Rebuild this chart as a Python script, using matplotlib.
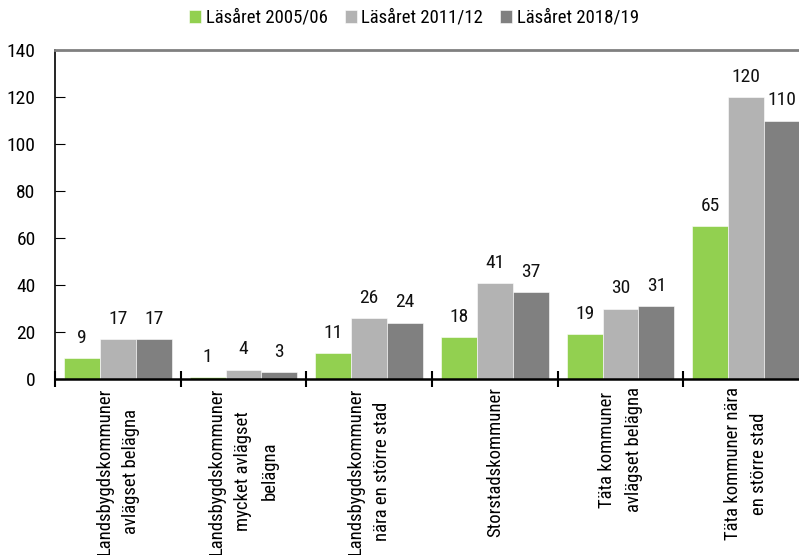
import matplotlib
matplotlib.use("Agg")
import matplotlib.pyplot as plt
import numpy as np

categories = [
    "Landsbygdskommuner\navlägset belägna",
    "Landsbygdskommuner\nmycket avlägset\nbelägna",
    "Landsbygdskommuner\nnära en större stad",
    "Storstadskommuner",
    "Täta kommuner\navlägset belägna",
    "Täta kommuner nära\nen större stad",
]
series_names = ["Läsåret 2005/06", "Läsåret 2011/12", "Läsåret 2018/19"]
v2005 = [9, 1, 11, 18, 19, 65]
v2011 = [17, 4, 26, 41, 30, 120]
v2018 = [17, 3, 24, 37, 31, 110]
yticks = [0, 20, 40, 60, 80, 100, 120, 140]

colors = ["#92d050", "#b3b3b3", "#808080"]

plt.rcParams["font.family"] = ["Roboto Condensed", "DejaVu Sans"]

fig = plt.figure(figsize=(7.99, 5.55), dpi=100)
W, H = 799, 555
left, right, bottom, top = 55, 809, 379, 50
ax = fig.add_axes([left / W, 1 - bottom / H, (right - left) / W, (bottom - top) / H])

x = np.arange(len(categories))
bw = 108 / 126 / 3
for i, (vals, c, n) in enumerate(zip([v2005, v2011, v2018], colors, series_names)):
    pos = x + (i - 1) * bw
    ax.bar(pos, vals, bw, color=c, label=n, edgecolor="white", linewidth=0.4, zorder=2)
    for p, v in zip(pos, vals):
        ax.annotate(str(v), (p, v), xytext=(0, 8), textcoords="offset points",
                    ha="center", va="bottom", fontsize=14, color="#111111")

ax.set_xlim(-0.5, len(categories) - 0.5)
ax.set_ylim(0, 140)
ax.set_yticks(yticks)
ax.tick_params(axis="y", direction="in", length=7, width=0.8, pad=14, labelsize=14)

ax.set_xticks(x)
ax.set_xticklabels(categories, rotation=90, va="top", ha="center", fontsize=13.5)
for lab in ax.get_xticklabels():
    lab.set_linespacing(1.6)
ax.tick_params(axis="x", which="major", length=0, pad=6)
ax.set_xticks(np.arange(len(categories)) - 0.5, minor=True)
ax.tick_params(axis="x", which="minor", direction="inout", length=12, width=1.5)

ax.spines["right"].set_visible(False)
ax.spines["top"].set_color("#808080")
ax.spines["top"].set_linewidth(2)
ax.spines["left"].set_linewidth(1.2)
ax.spines["bottom"].set_linewidth(1.8)

fig.legend(loc="center", bbox_to_anchor=(414 / W, 1 - 18 / H), ncol=3, frameon=False,
           fontsize=13.5, handlelength=0.65, handleheight=0.65, handletextpad=0.25,
           columnspacing=0.9, borderaxespad=0)

fig.savefig("out.png", dpi=100)
